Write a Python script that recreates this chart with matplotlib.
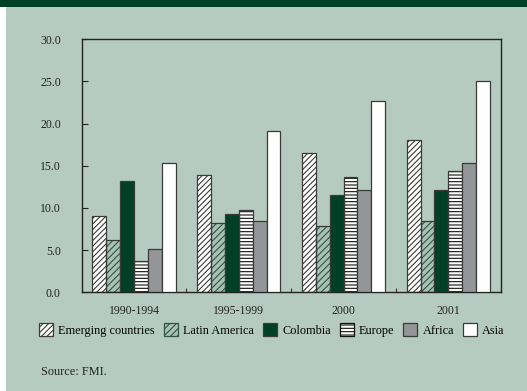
import matplotlib
matplotlib.use("Agg")
import matplotlib.pyplot as plt
from matplotlib.patches import Rectangle, Patch
import numpy as np

periods = ["1990-1994", "1995-1999", "2000", "2001"]
series_names = ["Emerging countries", "Latin America", "Colombia", "Europe", "Africa", "Asia"]
emerging = [9.1, 13.9, 16.5, 18.1]
latin_america = [6.2, 8.2, 7.9, 8.4]
colombia = [13.2, 9.3, 11.5, 12.1]
europe = [3.7, 9.8, 13.7, 14.4]
africa = [5.1, 8.4, 12.1, 15.3]
asia = [15.3, 19.1, 22.7, 25.1]
y_ticks = [0, 5, 10, 15, 20, 25, 30]

series_values = [emerging, latin_america, colombia, europe, africa, asia]

BG = "#b5cbc2"
DARK_GREEN = "#004028"
EDGE = "#3a3a3a"

# face colour, hatch pattern, hatch colour for each series
styles = [
    ("white", "//////", "#3c3c3c"),
    ("#a8c2b6", "/////", "#2e5444"),
    (DARK_GREEN, None, None),
    ("white", "-----", "#111111"),
    ("#939598", None, None),
    ("white", None, None),
]

plt.rcParams["font.family"] = ["Liberation Serif", "DejaVu Serif"]
plt.rcParams["hatch.linewidth"] = 0.8

fig = plt.figure(figsize=(5.27, 3.91), dpi=100, facecolor=BG)

# header band and left margin strip
fig.patches.append(Rectangle((0, 0.982), 1, 0.018, transform=fig.transFigure,
                             facecolor=DARK_GREEN, edgecolor="none", zorder=0))
fig.patches.append(Rectangle((0, 0), 0.0114, 0.982, transform=fig.transFigure,
                             facecolor="white", edgecolor="none", zorder=0))

ax = fig.add_axes([0.155, 0.2524, 0.795, 0.6471])
ax.set_facecolor(BG)

n = len(series_values)
x = np.arange(len(periods))
group_span = 0.795
bw = group_span / n

for i, (vals, (fc, hatch, hc)) in enumerate(zip(series_values, styles)):
    pos = x - group_span / 2 + bw * (i + 0.5)
    if hatch:
        ax.bar(pos, vals, width=bw, facecolor=fc, hatch=hatch, edgecolor=hc,
               linewidth=0, zorder=2)
        ax.bar(pos, vals, width=bw, fill=False, edgecolor=EDGE, linewidth=0.9, zorder=3)
    else:
        ax.bar(pos, vals, width=bw, facecolor=fc, edgecolor=EDGE, linewidth=0.9, zorder=3)

ax.set_xlim(-0.5, len(periods) - 0.5)
ax.set_ylim(0, 30)
ax.set_yticks(y_ticks)
ax.set_yticklabels([f"{v:.1f}" for v in y_ticks])
ax.set_xticks(x)
ax.set_xticklabels(periods)
ax.set_xticks(np.arange(0.5, len(periods) - 1, 1.0), minor=True)
ax.tick_params(axis="x", which="major", length=0, pad=9, labelsize=8.5, colors="#222222")
ax.tick_params(axis="x", which="minor", direction="in", length=3, width=0.8, color="#333333")
ax.tick_params(axis="y", direction="in", length=4, width=0.8, pad=15, labelsize=8.5,
               colors="#222222")
for s in ax.spines.values():
    s.set_color("#222222")
    s.set_linewidth(1.0)

handles = []
for name, (fc, hatch, hc) in zip(series_names, styles):
    if hatch:
        handles.append(Patch(facecolor=fc, hatch=hatch, edgecolor=hc, linewidth=0.9,
                             label=name))
    else:
        handles.append(Patch(facecolor=fc, edgecolor=EDGE, linewidth=0.9, label=name))

fig.legend(handles=handles, loc="center", bbox_to_anchor=(0.516, 0.156), ncol=6,
           frameon=False, fontsize=8.8, handlelength=1.15, handleheight=1.15,
           handletextpad=0.4, columnspacing=0.75, borderaxespad=0)

fig.text(0.077, 0.049, "Source: FMI.", fontsize=8.8, color="#222222", va="center")

fig.savefig("out.png", dpi=100, facecolor=BG)
